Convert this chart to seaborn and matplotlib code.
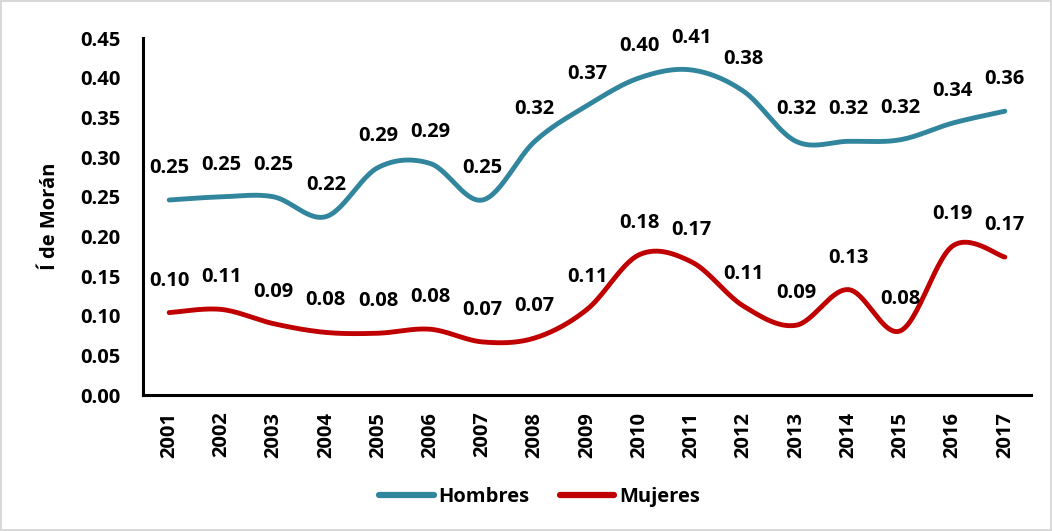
import numpy as np
import pandas as pd
import matplotlib
matplotlib.use("Agg")
import matplotlib.pyplot as plt
import seaborn as sns

years = [2001, 2002, 2003, 2004, 2005, 2006, 2007, 2008, 2009, 2010, 2011, 2012, 2013, 2014, 2015, 2016, 2017]
hombres = [0.246, 0.250, 0.250, 0.225, 0.287, 0.292, 0.246, 0.320, 0.365, 0.400, 0.410, 0.383, 0.320, 0.320, 0.322, 0.343, 0.358]
hombres_lbl = ["0.25", "0.25", "0.25", "0.22", "0.29", "0.29", "0.25", "0.32", "0.37", "0.40", "0.41", "0.38", "0.32", "0.32", "0.32", "0.34", "0.36"]
mujeres = [0.104, 0.108, 0.090, 0.079, 0.078, 0.083, 0.067, 0.072, 0.108, 0.177, 0.168, 0.112, 0.088, 0.133, 0.081, 0.188, 0.174]
mujeres_lbl = ["0.10", "0.11", "0.09", "0.08", "0.08", "0.08", "0.07", "0.07", "0.11", "0.18", "0.17", "0.11", "0.09", "0.13", "0.08", "0.19", "0.17"]
series_names = ["Hombres", "Mujeres"]
colors = ["#31859C", "#C00000"]
yticks = [0.00, 0.05, 0.10, 0.15, 0.20, 0.25, 0.30, 0.35, 0.40, 0.45]


def smooth(xs, ys, n=30):
    # Excel-like smoothed line (cubic Bezier through points)
    x = np.asarray(xs, float); y = np.asarray(ys, float)
    px = np.concatenate([[x[0]], x, [x[-1]]])
    py = np.concatenate([[y[0]], y, [y[-1]]])
    ox, oy = [], []
    t = np.linspace(0, 1, n)
    for i in range(len(x) - 1):
        p0 = np.array([px[i + 1], py[i + 1]])
        p3 = np.array([px[i + 2], py[i + 2]])
        p1 = p0 + (np.array([px[i + 2], py[i + 2]]) - np.array([px[i], py[i]])) / 6
        p2 = p3 - (np.array([px[i + 3], py[i + 3]]) - np.array([px[i + 1], py[i + 1]])) / 6
        b = (((1 - t) ** 3)[:, None] * p0 + (3 * (1 - t) ** 2 * t)[:, None] * p1
             + (3 * (1 - t) * t ** 2)[:, None] * p2 + (t ** 3)[:, None] * p3)
        ox.extend(b[:, 0]); oy.extend(b[:, 1])
    return np.array(ox), np.array(oy)


sns.set_theme(style="white")
plt.rcParams['font.family'] = ['Open Sans', 'DejaVu Sans']
plt.rcParams['font.weight'] = 'bold'
plt.rcParams['text.color'] = 'black'
plt.rcParams['axes.labelcolor'] = 'black'

FS = 14.5

fig = plt.figure(figsize=(10.52, 5.31), dpi=100)
fig.patch.set_edgecolor("#D9D9D9")
fig.patch.set_linewidth(1.5)
ax = fig.add_axes([0.136, 0.256, 0.844, 0.672])

frames = []
for name, vals in zip(series_names, [hombres, mujeres]):
    sx, sy = smooth(years, vals)
    frames.append(pd.DataFrame({"x": sx, "y": sy, "serie": name}))
df = pd.concat(frames, ignore_index=True)

sns.lineplot(data=df, x="x", y="y", hue="serie", palette=colors, sort=False,
             estimator=None, units="serie", linewidth=3.5, ax=ax, legend=True)
for line in ax.lines:
    line.set_solid_capstyle("round")

for vals, lbls in [(hombres, hombres_lbl), (mujeres, mujeres_lbl)]:
    for xv, yv, lb in zip(years, vals, lbls):
        ax.annotate(lb, (xv, yv), xytext=(0, 23), textcoords="offset points",
                    ha="center", va="center", fontsize=FS, fontweight="bold", color="black")

ax.set_xlim(2000.5, 2017.5)
ax.set_ylim(0, 0.45)
ax.set_xticks(years)
ax.set_xticklabels([str(y) for y in years], rotation=90, fontsize=FS, fontweight="bold")
ax.set_yticks(yticks)
ax.set_yticklabels([f"{v:.2f}" for v in yticks], fontsize=FS, fontweight="bold")
ax.set_xlabel("")
ax.set_ylabel("Í de Morán", fontsize=FS, fontweight="bold", labelpad=15, color="black")
for s in ["top", "right"]:
    ax.spines[s].set_visible(False)
for s in ["left", "bottom"]:
    ax.spines[s].set_color("black")
    ax.spines[s].set_linewidth(2.2)
ax.tick_params(axis="x", length=0, pad=12, colors="black")
ax.tick_params(axis="y", length=0, pad=16, colors="black")
ax.grid(False)

handles, labels = ax.get_legend_handles_labels()
ax.get_legend().remove()
leg = fig.legend(handles, labels, loc="center", bbox_to_anchor=(0.513, 0.064), ncol=2, frameon=False,
                 prop={"weight": "bold", "size": FS}, handlelength=2.7, columnspacing=1.5,
                 handletextpad=0.25)
for t in leg.get_texts():
    t.set_color("black")
for h in leg.get_lines():
    h.set_linewidth(4.5)
    h.set_solid_capstyle("round")

fig.savefig("out.png", dpi=100)
